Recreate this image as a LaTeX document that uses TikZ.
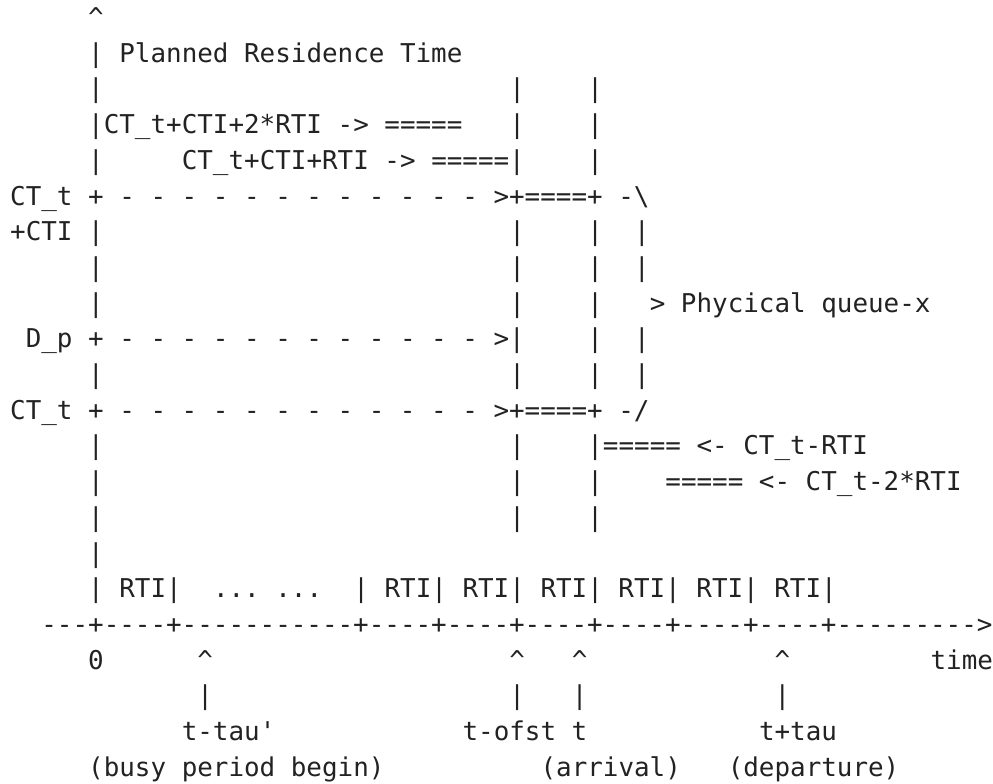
\documentclass[tikz,border=0pt]{standalone}
\usepackage{fontspec}
\setmonofont{DejaVu Sans Mono}
\definecolor{ink}{HTML}{222222}
% one monospaced cell is 15.6pt wide, one text row is 35.7pt high
\tikzset{
  asc/.style={anchor=base west, inner sep=0pt, outer sep=0pt, text=ink,
              font=\ttfamily\fontsize{25.9pt}{30pt}\selectfont}
}
% \seg{name}{column}{row}{text}
\newcommand\seg[4]{\node[asc] (#1) at (#2,#3) {#4};}
\newcommand\dashrun{- - - - - - - - - - - - }
\begin{document}
\begin{tikzpicture}[x=15.6pt,y=-35.7pt]
\useasboundingbox (0pt,0pt) rectangle (993pt,-784pt);
\begin{scope}[shift={(10.2pt,-26.5pt)}]
% vertical axis: planned residence time
\seg{r0a}{5}{0}{\textasciicircum}
\seg{r1a}{5}{1}{|}
\seg{r1b}{7}{1}{Planned Residence Time}
\seg{r2a}{5}{2}{|}
\seg{r2b}{32}{2}{|}
\seg{r2c}{37}{2}{|}
\seg{r3a}{5}{3}{|CT\_t+CTI+2*RTI -> =====}
\seg{r3b}{32}{3}{|}
\seg{r3c}{37}{3}{|}
\seg{r4a}{5}{4}{|}
\seg{r4b}{11}{4}{CT\_t+CTI+RTI -> =====|}
\seg{r4c}{37}{4}{|}
\seg{r5a}{0}{5}{CT\_t + \dashrun>+====+ -\textbackslash}
\seg{r6a}{0}{6}{+CTI |}
\seg{r6b}{32}{6}{|}
\seg{r6c}{37}{6}{|}
\seg{r6d}{40}{6}{|}
\seg{r7a}{5}{7}{|}
\seg{r7b}{32}{7}{|}
\seg{r7c}{37}{7}{|}
\seg{r7d}{40}{7}{|}
\seg{r8a}{5}{8}{|}
\seg{r8b}{32}{8}{|}
\seg{r8c}{37}{8}{|}
\seg{r8d}{41}{8}{> Phycical queue-x}
\seg{r9a}{1}{9}{D\_p + \dashrun>|}
\seg{r9b}{37}{9}{|}
\seg{r9c}{40}{9}{|}
\seg{r10a}{5}{10}{|}
\seg{r10b}{32}{10}{|}
\seg{r10c}{37}{10}{|}
\seg{r10d}{40}{10}{|}
\seg{r11a}{0}{11}{CT\_t + \dashrun>+====+ -/}
\seg{r12a}{5}{12}{|}
\seg{r12b}{32}{12}{|}
\seg{r12c}{37}{12}{|===== <- CT\_t-RTI}
\seg{r13a}{5}{13}{|}
\seg{r13b}{32}{13}{|}
\seg{r13c}{37}{13}{|}
\seg{r13d}{42}{13}{===== <- CT\_t-2*RTI}
\seg{r14a}{5}{14}{|}
\seg{r14b}{32}{14}{|}
\seg{r14c}{37}{14}{|}
\seg{r15a}{5}{15}{|}
% time axis with its RTI slots
\seg{r16a}{5}{16}{| RTI|}
\seg{r16b}{13}{16}{... ...}
\seg{r16c}{22}{16}{| RTI| RTI| RTI| RTI| RTI| RTI|}
\seg{r17a}{2}{17}{---+----+-----------+----+----+----+----+----+----+--------->}
\seg{r18a}{5}{18}{0}
\seg{r18b}{12}{18}{\textasciicircum}
\seg{r18c}{32}{18}{\textasciicircum}
\seg{r18d}{36}{18}{\textasciicircum}
\seg{r18e}{49}{18}{\textasciicircum}
\seg{r18f}{59}{18}{time}
\seg{r19a}{12}{19}{|}
\seg{r19b}{32}{19}{|}
\seg{r19c}{36}{19}{|}
\seg{r19d}{49}{19}{|}
\seg{r20a}{11}{20}{t-tau'}
\seg{r20b}{29}{20}{t-ofst t}
\seg{r20c}{48}{20}{t+tau}
\seg{r21a}{5}{21}{(busy period begin)}
\seg{r21b}{34}{21}{(arrival)}
\seg{r21c}{46}{21}{(departure)}
\end{scope}
\end{tikzpicture}
\end{document}
